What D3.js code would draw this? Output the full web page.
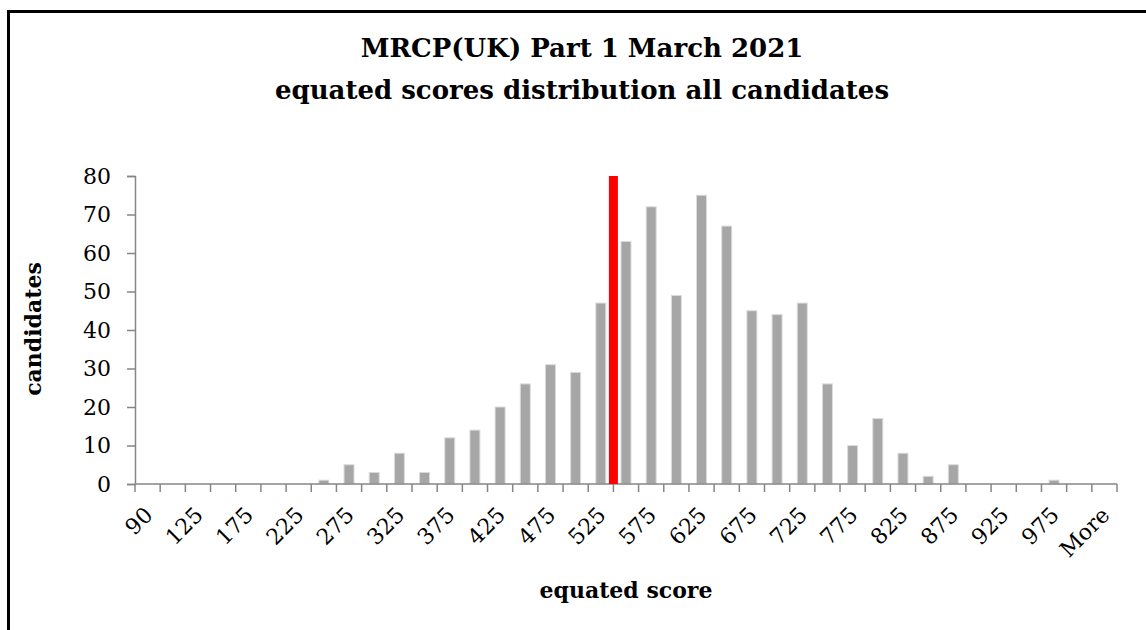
<!DOCTYPE html>
<html>
<head>
<meta charset="utf-8">
<script src="https://cdn.jsdelivr.net/npm/d3@7"></script>
<style>
  html, body { margin: 0; padding: 0; background: #fff; }
  svg { display: block; }
</style>
</head>
<body>
<svg id="chart" width="1146" height="630"></svg>
<script>
const titleLines = ["MRCP(UK) Part 1 March 2021", "equated scores distribution all candidates"];
const xTitle = "equated score";
const yTitle = "candidates";

const categories = ["90","100","125","150","175","200","225","250","275","300",
  "325","350","375","400","425","450","475","500","525","550",
  "575","600","625","650","675","700","725","750","775","800",
  "825","850","875","900","925","950","975","1000","More"];
const counts = [0,0,0,0,0,0,0,1,5,3,
  8,3,12,14,20,26,31,29,47,63,
  72,49,75,67,45,44,47,26,10,17,
  8,2,5,0,0,0,1,0,0];
const xTickLabels = ["90","125","175","225","275","325","375","425","475","525",
  "575","625","675","725","775","825","875","925","975","More"];
const yTicks = [0,10,20,30,40,50,60,70,80];
// pass mark marker: drawn between these two bins, full height
const markerBetween = ["525","550"];
const markerValue = 80;

const svg = d3.select("#chart");
const W = 1146, H = 630;
const plot = {left: 135, right: 1117, top: 176, bottom: 484};

svg.append("rect").attr("width", W).attr("height", H).attr("fill", "#fff");

// outer frame (left and top visible)
svg.append("path")
  .attr("d", `M8.5,${H + 5} L8.5,11.5 L${W + 5},11.5`)
  .attr("fill", "none").attr("stroke", "#000").attr("stroke-width", 3);

const x = d3.scaleBand().domain(categories).range([plot.left, plot.right]).padding(0);
const y = d3.scaleLinear().domain([0, 80]).range([plot.bottom, plot.top]);

const serif = "'DejaVu Serif', 'Liberation Serif', serif";
const axisColor = "#868686";

// title
const title = svg.append("text")
  .attr("text-anchor", "middle")
  .attr("font-family", serif).attr("font-weight", "bold").attr("font-size", 26)
  .attr("fill", "#000");
titleLines.forEach((t, i) => {
  title.append("tspan").attr("x", 582).attr("y", 57 + i * 42).text(t);
});

// bars
const barW = 10;
svg.append("g").selectAll("rect")
  .data(categories.map((c, i) => ({c, v: counts[i]})).filter(d => d.v > 0))
  .join("rect")
  .attr("x", d => x(d.c) + (x.bandwidth() - barW) / 2)
  .attr("y", d => y(d.v))
  .attr("width", barW)
  .attr("height", d => y(0) - y(d.v))
  .attr("fill", "#a6a6a6")
  .attr("stroke", "#dcdcdc")
  .attr("stroke-width", 1);

// y axis
const yAxis = d3.axisLeft(y).tickValues(yTicks).tickSize(8).tickPadding(16).tickFormat(d3.format("d"));
const gy = svg.append("g").attr("transform", `translate(${plot.left},0)`).call(yAxis);
gy.select(".domain").attr("stroke", axisColor).attr("stroke-width", 1.5);
gy.selectAll(".tick line").attr("stroke", axisColor).attr("stroke-width", 1.5);
gy.selectAll(".tick text").attr("font-family", serif).attr("font-size", 22).attr("fill", "#000");

// x axis
const gx = svg.append("g").attr("transform", `translate(0,${plot.bottom})`);
gx.append("line")
  .attr("x1", plot.left).attr("x2", plot.right)
  .attr("stroke", axisColor).attr("stroke-width", 1.5);
const boundaries = categories.map(c => x(c)).concat([plot.right]);
gx.selectAll("line.tk").data(boundaries).join("line").attr("class", "tk")
  .attr("x1", d => d).attr("x2", d => d).attr("y1", 0).attr("y2", 8)
  .attr("stroke", axisColor).attr("stroke-width", 1.5);
gx.selectAll("text").data(xTickLabels).join("text")
  .attr("transform", d => `translate(${x(d) + x.bandwidth() / 2 + 1},${27}) rotate(-45)`)
  .attr("text-anchor", "end")
  .attr("dy", "0.35em")
  .attr("font-family", serif).attr("font-size", 22).attr("fill", "#000")
  .text(d => d);

// pass mark marker
const markerW = 9;
const mx = x(markerBetween[1]);
svg.append("rect")
  .attr("x", mx - markerW / 2).attr("y", y(markerValue))
  .attr("width", markerW).attr("height", y(0) - y(markerValue))
  .attr("fill", "#ff0000");

// axis titles
svg.append("text")
  .attr("x", 626).attr("y", 598)
  .attr("text-anchor", "middle")
  .attr("font-family", serif).attr("font-weight", "bold").attr("font-size", 22)
  .text(xTitle);
svg.append("text")
  .attr("transform", `translate(41,329) rotate(-90)`)
  .attr("text-anchor", "middle")
  .attr("font-family", serif).attr("font-weight", "bold").attr("font-size", 22)
  .text(yTitle);
</script>
</body>
</html>
